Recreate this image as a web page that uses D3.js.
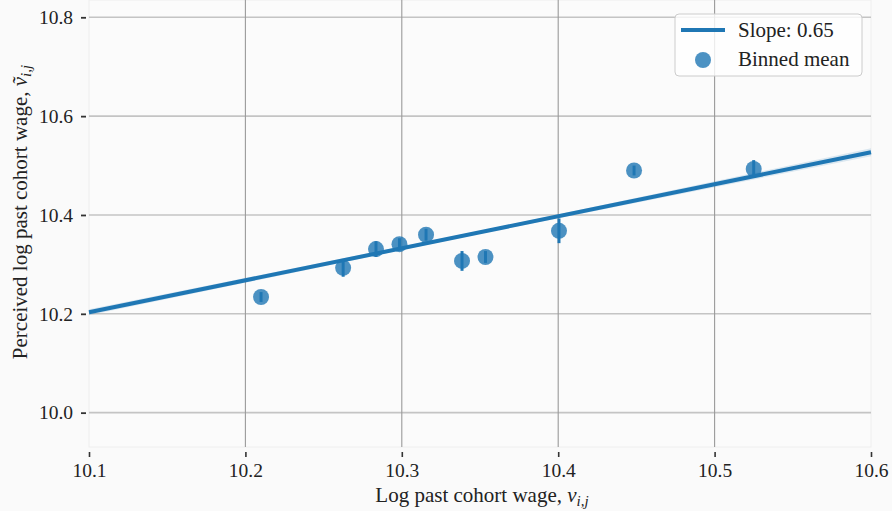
<!DOCTYPE html>
<html>
<head>
<meta charset="utf-8">
<script src="https://cdn.jsdelivr.net/npm/d3@7"></script>
<style>
  html, body { margin: 0; padding: 0; background: #fafafa; }
  svg { display: block; }
  svg text { font-family: "Liberation Serif", "Times New Roman", serif !important; fill: #222; }
</style>
</head>
<body>
<svg id="chart" width="892" height="511"></svg>
<script>
// ---- data ----
const binX    = [10.210, 10.2625, 10.2835, 10.2985, 10.3155, 10.3385, 10.3535, 10.4005, 10.4485, 10.525];
const binY    = [10.234, 10.293, 10.331, 10.341, 10.360, 10.307, 10.315, 10.368, 10.490, 10.493];
const binErr  = [0.010, 0.018, 0.016, 0.012, 0.012, 0.020, 0.012, 0.025, 0.010, 0.018];
const fitX    = [10.1, 10.35, 10.6];
const fitY    = [10.203, 10.365, 10.527];
const fitLow  = [10.197, 10.362, 10.519];
const fitHigh = [10.209, 10.368, 10.535];
const xTicks  = [10.1, 10.2, 10.3, 10.4, 10.5, 10.6];
const yTicks  = [10.0, 10.2, 10.4, 10.6, 10.8];
const legendLabels = ["Slope: 0.65", "Binned mean"];

const blue = "#1f77b4";
const serif = "'Liberation Serif', 'Times New Roman', serif";
const svg = d3.select("#chart");
const plot = {left: 89, right: 871, top: 0, bottom: 447};

const x = d3.scaleLinear().domain([10.1, 10.6]).range([plot.left, plot.right]);
const y = d3.scaleLinear().domain([9.9305, 10.835]).range([plot.bottom, plot.top]);

// plot background
svg.append("rect").attr("x", plot.left).attr("y", plot.top)
  .attr("width", plot.right - plot.left).attr("height", plot.bottom - plot.top)
  .attr("fill", "#fbfbfb").attr("stroke", "#eeeeee").attr("stroke-width", 1);

// grid
const g = svg.append("g");
g.selectAll(".hgrid").data(yTicks).join("line")
  .attr("x1", plot.left).attr("x2", plot.right)
  .attr("y1", d => y(d)).attr("y2", d => y(d))
  .attr("stroke", "#c4c4c4").attr("stroke-width", 1.6);
g.selectAll(".vgrid").data(xTicks.filter(d => d > 10.1 && d < 10.6)).join("line")
  .attr("x1", d => x(d)).attr("x2", d => x(d))
  .attr("y1", plot.top).attr("y2", plot.bottom)
  .attr("stroke", "#9a9a9a").attr("stroke-width", 1.1);

// axes
const xAxis = d3.axisBottom(x).tickValues(xTicks).tickFormat(d3.format(".1f")).tickSize(5).tickPadding(5);
const xg = svg.append("g").attr("transform", `translate(0,${plot.bottom + 5})`).call(xAxis)
  .attr("font-family", serif);
xg.select(".domain").remove();
xg.selectAll(".tick line").attr("stroke", "#333").attr("stroke-width", 1.6);
xg.selectAll(".tick text").style("font-size", "19.5px").style("font-family", serif).attr("fill", "#222")
  .attr("dy", "0.75em");

const yAxis = d3.axisLeft(y).tickValues(yTicks).tickFormat(d3.format(".1f")).tickSize(5).tickPadding(8);
const yg = svg.append("g").attr("transform", `translate(${plot.left - 3},0)`).call(yAxis)
  .attr("font-family", serif);
yg.select(".domain").remove();
yg.selectAll(".tick line").attr("stroke", "#333").attr("stroke-width", 1.8);
yg.selectAll(".tick text").style("font-size", "19.5px").style("font-family", serif).attr("fill", "#222");

// regression band + line
const fitData = fitX.map((d, i) => ({x: d, y: fitY[i], lo: fitLow[i], hi: fitHigh[i]}));
svg.append("path").datum(fitData)
  .attr("d", d3.area().x(d => x(d.x)).y0(d => y(d.lo)).y1(d => y(d.hi)))
  .attr("fill", blue).attr("fill-opacity", 0.15);
svg.append("path").datum(fitData)
  .attr("d", d3.line().x(d => x(d.x)).y(d => y(d.y)))
  .attr("fill", "none").attr("stroke", blue).attr("stroke-width", 4);

// binned means
const pts = binX.map((d, i) => ({x: d, y: binY[i], e: binErr[i]}));
const pg = svg.append("g");
pg.selectAll(".err").data(pts).join("line")
  .attr("x1", d => x(d.x)).attr("x2", d => x(d.x))
  .attr("y1", d => y(d.y - d.e)).attr("y2", d => y(d.y + d.e))
  .attr("stroke", blue).attr("stroke-width", 3);
pg.selectAll(".pt").data(pts).join("circle")
  .attr("cx", d => x(d.x)).attr("cy", d => y(d.y)).attr("r", 8)
  .attr("fill", blue).attr("fill-opacity", 0.8);

// axis labels
const xl = svg.append("text").attr("x", 482).attr("y", 502).attr("text-anchor", "middle").style("font-size", "21px");
xl.append("tspan").text("Log past cohort wage, ");
xl.append("tspan").attr("font-style", "italic").text("v");
xl.append("tspan").attr("font-style", "italic").style("font-size", "15px").attr("dy", 4).text("i,j");

const yl = svg.append("text").attr("transform", "translate(27,212) rotate(-90)")
  .attr("text-anchor", "middle").style("font-size", "21px");
yl.append("tspan").text("Perceived log past cohort wage, ");
yl.append("tspan").attr("font-style", "italic").text("v\u0303");
yl.append("tspan").attr("font-style", "italic").style("font-size", "15px").attr("dy", 4).text("i,j");

// legend
const lg = svg.append("g");
lg.append("rect").attr("x", 675).attr("y", 14).attr("width", 187).attr("height", 62).attr("rx", 4)
  .attr("fill", "#ffffff").attr("fill-opacity", 0.8).attr("stroke", "#cccccc").attr("stroke-width", 1);
lg.append("line").attr("x1", 681).attr("x2", 725).attr("y1", 30).attr("y2", 30)
  .attr("stroke", blue).attr("stroke-width", 4);
lg.append("circle").attr("cx", 703).attr("cy", 60).attr("r", 8).attr("fill", blue).attr("fill-opacity", 0.8);
lg.selectAll(".lt").data(legendLabels).join("text")
  .attr("x", 738).attr("y", (d, i) => 37 + i * 29).style("font-size", "21px").text(d => d);
</script>
</body>
</html>
